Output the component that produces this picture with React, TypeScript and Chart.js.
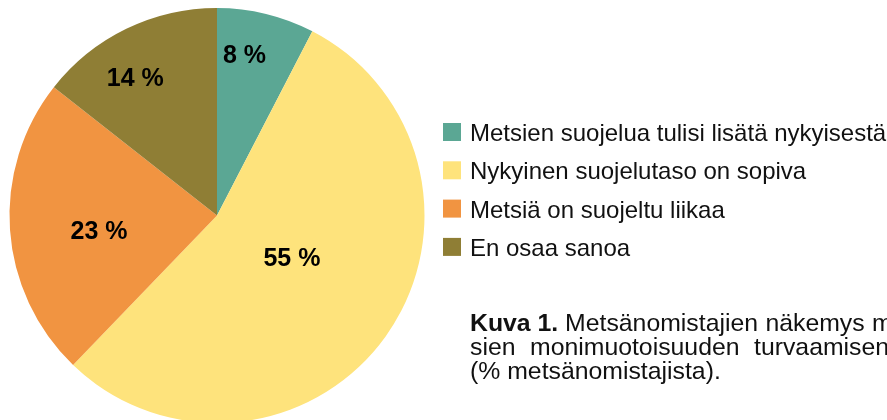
import { useEffect, useRef } from "react";
import { Chart, registerables } from "chart.js";

Chart.register(...registerables);

const categories = [
  "Metsien suojelua tulisi lisätä nykyisestä",
  "Nykyinen suojelutaso on sopiva",
  "Metsiä on suojeltu liikaa",
  "En osaa sanoa",
];
const shares = [7.6, 54.6, 23.4, 14.4];
const colors = ["#5BA794", "#FEE37C", "#F19441", "#8F7E35"];
const captionBold = "Kuva 1.";
const captionLine1 = ["Metsänomistajien", "näkemys", "met-"];
const captionLine2 = ["sien", "monimuotoisuuden", "turvaamisen", "tasosta"];
const captionLine3 = "(% metsänomistajista).";

const FONT = '"Liberation Sans", Arial, Helvetica, sans-serif';
// label placement (style): angle shift in degrees, radius fraction
const LABEL_SHIFT = [-4, -6.4, -3.2, -4.6];
const LABEL_RADIUS = [0.79, 0.414, 0.573, 0.775];

export default function App() {
  const ref = useRef<HTMLCanvasElement>(null);
  useEffect(() => {
    const canvas = ref.current!;
    const plugin = {
      id: "custom",
      afterDatasetsDraw(chart: any) {
        const ctx: CanvasRenderingContext2D = chart.ctx;
        const meta = chart.getDatasetMeta(0);
        ctx.save();
        ctx.fillStyle = "#000";
        ctx.font = `bold 25px ${FONT}`;
        ctx.textAlign = "center";
        ctx.textBaseline = "alphabetic";
        meta.data.forEach((arc: any, i: number) => {
          const p = arc.getProps(["x", "y", "startAngle", "endAngle", "outerRadius"], true);
          const a = (p.startAngle + p.endAngle) / 2 + (LABEL_SHIFT[i] * Math.PI) / 180;
          const r = p.outerRadius * LABEL_RADIUS[i];
          const txt = `${Math.round(shares[i])} %`;
          ctx.fillText(txt, p.x + Math.cos(a) * r, p.y + Math.sin(a) * r + 9);
        });
        ctx.restore();
      },
      afterDraw(chart: any) {
        const ctx: CanvasRenderingContext2D = chart.ctx;
        ctx.save();
        ctx.textAlign = "left";
        ctx.textBaseline = "alphabetic";
        // legend
        ctx.font = `24px ${FONT}`;
        categories.forEach((c, i) => {
          const top = 123 + i * 38.3;
          ctx.fillStyle = colors[i];
          ctx.fillRect(443, top, 18, 18);
          ctx.fillStyle = "#111";
          ctx.fillText(c, 470, top + 18);
        });
        // caption
        const size = 24.8;
        ctx.fillStyle = "#111";
        ctx.font = `bold ${size}px ${FONT}`;
        let x = 470;
        ctx.fillText(captionBold, x, 330.5);
        x += ctx.measureText(captionBold + " ").width;
        ctx.font = `${size}px ${FONT}`;
        const sp = ctx.measureText(" ").width;
        captionLine1.forEach((w) => {
          ctx.fillText(w, x, 330.5);
          x += ctx.measureText(w).width + sp + 0.5;
        });
        x = 470;
        captionLine2.forEach((w) => {
          ctx.fillText(w, x, 355);
          x += ctx.measureText(w).width + 14.5;
        });
        ctx.fillText(captionLine3, 470, 379);
        ctx.restore();
      },
    };
    const chart = new Chart(canvas, {
      type: "pie",
      data: {
        labels: categories,
        datasets: [
          {
            data: shares,
            backgroundColor: colors,
            borderWidth: 0,
          },
        ],
      },
      options: {
        responsive: false,
        animation: false,
        devicePixelRatio: 1,
        layout: { padding: { left: 9.5, right: 462.5, top: 8, bottom: 17 } },
        plugins: {
          legend: { display: false },
          tooltip: { enabled: false },
        },
      },
      plugins: [plugin],
    });
    return () => chart.destroy();
  }, []);
  return (
    <div
      style={{
        position: "absolute",
        left: 0,
        top: 0,
        width: 887,
        height: 420,
        overflow: "hidden",
        background: "#fff",
      }}
    >
      <canvas ref={ref} width={887} height={440} style={{ display: "block", width: 887, height: 440 }} />
    </div>
  );
}
